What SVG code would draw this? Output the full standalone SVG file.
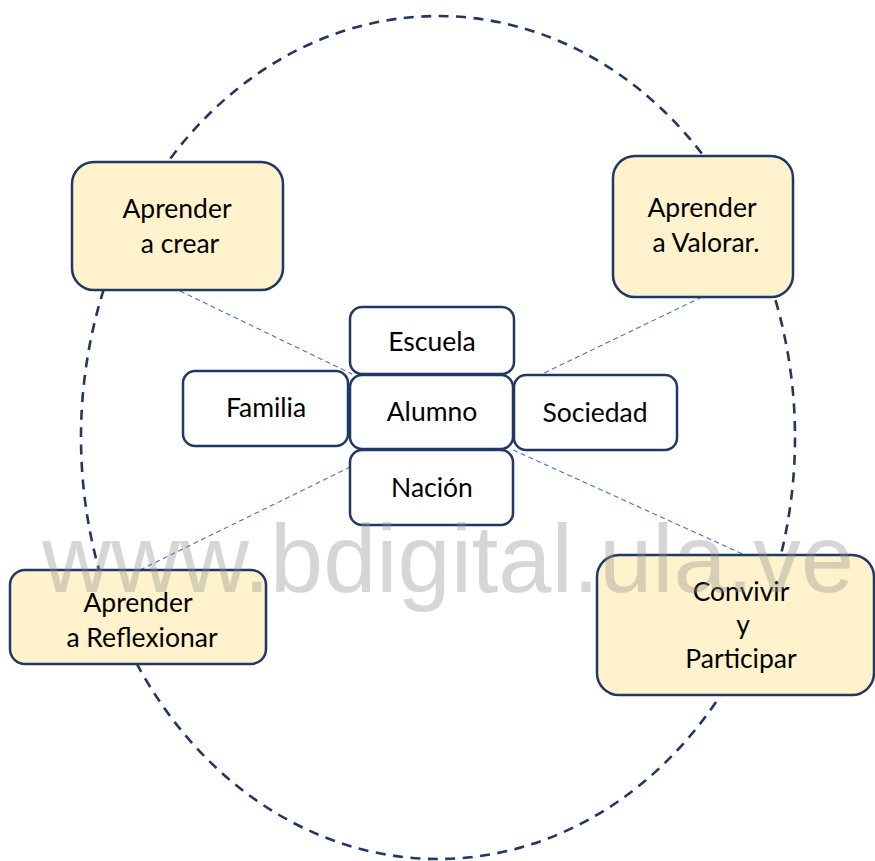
<svg xmlns="http://www.w3.org/2000/svg" width="875" height="861" viewBox="0 0 875 861">
<style>
.big{fill:#FFF2CC;stroke:#203864;stroke-width:2.5}
.small{fill:#FFFFFF;stroke:#203864;stroke-width:2.5}
.t{font-family:Lato,"Open Sans","Liberation Sans",sans-serif;fill:#000;text-anchor:middle}
.tb{font-size:26.5px}
.ts{font-size:26.5px}
.link{stroke:#4472C4;stroke-width:1.1;stroke-dasharray:5 3.5;fill:none}
</style>
<rect width="875" height="861" fill="#FFFFFF"/>
<ellipse id="ring" cx="438" cy="437.5" rx="357" ry="421.5" fill="none" stroke="#203864" stroke-width="2.6" stroke-dasharray="10 7.5"/>
<g id="connectors">
<line class="link" x1="180" y1="291" x2="352" y2="374"/>
<line class="link" x1="702" y1="297" x2="540" y2="375"/>
<line class="link" x1="140" y1="570" x2="350" y2="467"/>
<line class="link" x1="513" y1="450" x2="745" y2="555"/>
</g>
<g id="aprender-crear">
<rect class="big" x="72" y="162" width="211" height="128" rx="22"/>
<text class="t tb" x="177" y="218">Aprender</text>
<text class="t tb" x="180" y="253">a crear</text>
</g>
<g id="aprender-valorar">
<rect class="big" x="613" y="156" width="180" height="141" rx="22"/>
<text class="t tb" x="702" y="217">Aprender</text>
<text class="t tb" x="706" y="252">a Valorar.</text>
</g>
<g id="aprender-reflexionar">
<rect class="big" x="10" y="570" width="256" height="94" rx="15"/>
<text class="t tb" x="138" y="612">Aprender</text>
<text class="t tb" x="142" y="647">a Reflexionar</text>
</g>
<g id="convivir">
<rect class="big" x="597" y="555" width="277" height="140" rx="22"/>
<text class="t tb" x="741" y="601">Convivir</text>
<text class="t tb" x="743" y="634">y</text>
<text class="t tb" x="741" y="668">Participar</text>
</g>
<g id="escuela">
<rect class="small" x="350" y="307" width="164" height="67" rx="12"/>
<text class="t ts" x="432" y="351">Escuela</text>
</g>
<g id="familia">
<rect class="small" x="183" y="371" width="165" height="75" rx="12"/>
<text class="t ts" x="266" y="417">Familia</text>
</g>
<g id="alumno">
<rect class="small" x="350" y="375" width="163" height="74" rx="12"/>
<text class="t ts" x="432" y="421">Alumno</text>
</g>
<g id="sociedad">
<rect class="small" x="514" y="375" width="163" height="75" rx="12"/>
<text class="t ts" x="595" y="422">Sociedad</text>
</g>
<g id="nacion">
<rect class="small" x="350" y="450" width="163" height="75" rx="12"/>
<text class="t ts" x="432" y="497">Nación</text>
</g>
<text id="watermark" x="42" y="592" font-family="'Liberation Sans',Arial,sans-serif" font-size="96" fill="#8C8C8C" fill-opacity="0.36" textLength="812" lengthAdjust="spacingAndGlyphs">www.bdigital.ula.ve</text>
</svg>
